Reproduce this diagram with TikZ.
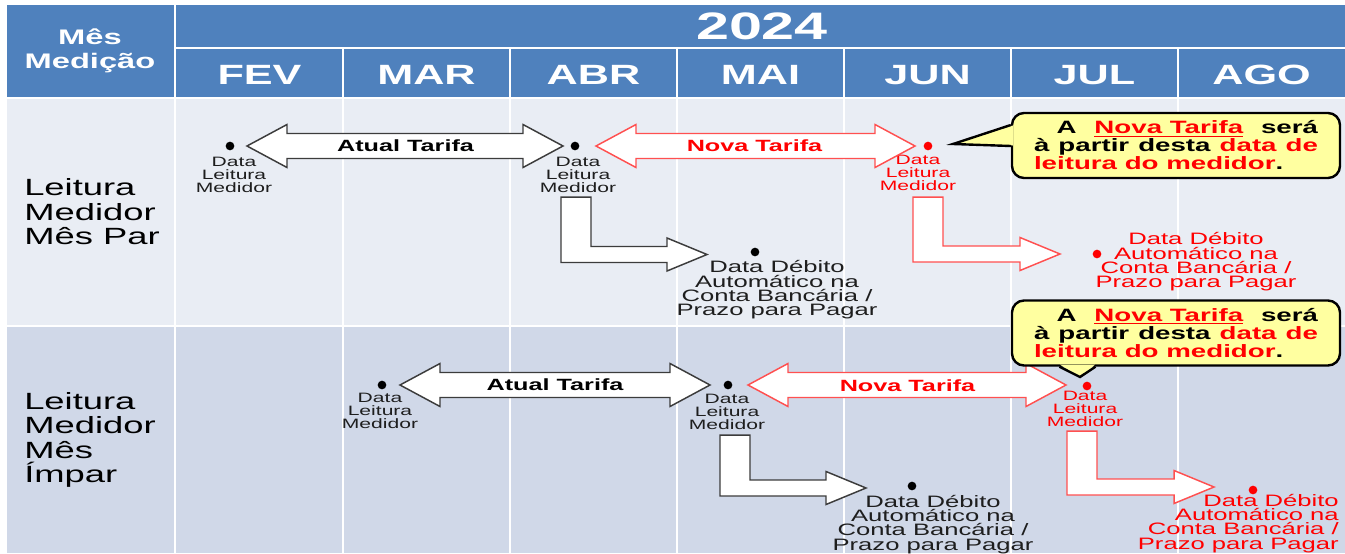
\documentclass[tikz,border=0pt]{standalone}
\usepackage{fontspec}
\setmainfont{Liberation Sans}[FakeStretch=1.55]
\usepackage{xcolor}
\usepackage{tikz}
\usetikzlibrary{
    positioning,
    calc
}
\definecolor{hdrblue}{RGB}{79,129,189}
\definecolor{rowA}{RGB}{233,237,244}
\definecolor{rowB}{RGB}{208,216,232}
\definecolor{lblgray}{RGB}{30,30,30}
\definecolor{arrgray}{RGB}{60,60,60}
\definecolor{arrred}{RGB}{255,80,80}
\definecolor{cfill}{RGB}{255,255,160}
\tikzstyle{grid} = [white, line width=1.5pt]
\tikzstyle{hdr} = [
    text=white,
    align=center,
    inner sep=0pt
]
\tikzstyle{rowlbl} = [
    anchor=west,
    align=left,
    inner sep=0pt,
    font=\fontsize{17.6}{18.4}\selectfont
]
\tikzstyle{ptdot} = [circle, fill=black, inner sep=0pt, minimum size=6.5pt]
\tikzstyle{redptdot} = [ptdot, fill=red]
\tikzstyle{lbl} = [
    anchor=north,
    align=center,
    inner sep=0pt,
    text=lblgray,
    font=\fontsize{10.2}{9.75}\selectfont
]
\tikzstyle{redlbl} = [lbl, text=red]
\tikzstyle{debit} = [
    anchor=north,
    align=center,
    inner sep=0pt,
    text=lblgray,
    font=\fontsize{12.4}{10.75}\selectfont
]
\tikzstyle{reddebit} = [debit, text=red]
\tikzstyle{tarifa} = [inner sep=0pt, font=\bfseries\fontsize{12.2}{13}\selectfont]
\tikzstyle{blkarrow} = [draw=arrgray, fill=white, line width=1.1pt]
\tikzstyle{redarrow} = [draw=arrred, fill=white, line width=1.1pt]
\tikzstyle{balloon} = [
    draw=black,
    fill=cfill,
    line width=1.8pt,
    rounded corners=9pt,
    text width=213pt,
    inner xsep=16.5pt,
    inner ysep=0pt,
    minimum height=48.75pt,
    align=justify,
    font=\bfseries\fontsize{13.4}{13.5}\selectfont
]
\newcommand{\balloontext}{%
    \hspace*{17pt}A \textcolor{red}{\underline{Nova Tarifa}} será\linebreak
    à partir desta \textcolor{red}{data de}\linebreak
    \textcolor{red}{leitura do medidor}.}
% double block arrow between two tips
\newcommand{\dblarrow}[3]{%
    \draw[#1] (#2) -- ++(40,-21.5) -- ++(0,9) -- ($(#3)+(-40,-12.5)$) -- ++(0,-9)
        -- (#3) -- ++(-40,21.5) -- ++(0,-9) -- ($(#2)+(40,12.5)$) -- ++(0,9) -- cycle;}
% bent block arrow: top-left corner of the stem, then tip
\newcommand{\bentarrow}[3]{%
    \draw[#1] (#2) -- ++(30,0) |- ($(#3)+(-40,-8)$) -- ++(0,-8.5) -- (#3)
        -- ++(-40,16.5) -- ++(0,-8.5) -| (#2) -- cycle;}

\begin{document}
\begin{tikzpicture}[x=0.75pt, y=-0.75pt]
    \useasboundingbox (0,0) rectangle (1345,553);

    \fill[hdrblue] (7,5) rectangle (1345,98);
    \fill[rowA] (7,98) rectangle (1345,326);
    \fill[rowB] (7,326) rectangle (1345,553);
    \draw[grid] (175,48) -- (1345,48);
    \draw[grid] (7,98) -- (1345,98);
    \draw[grid] (7,326) -- (1345,326);
    \draw[grid] (175,5) -- (175,553);
    \foreach \i in {1,...,6}
        \draw[grid] ({176+167*\i},48) -- ({176+167*\i},553);

    \node[hdr, font=\bfseries\fontsize{15.8}{17.6}\selectfont] (mes) at (90,51) {Mês\\Medição};
    \node[hdr, font=\bfseries\fontsize{28.7}{30}\selectfont] (ano) at (762,26) {2024};
    \foreach \m [count=\i] in {FEV,MAR,ABR,MAI,JUN,JUL,AGO}
        \node[hdr, font=\bfseries\fontsize{20.9}{22}\selectfont] (m\i) at ({176+167*(\i-0.5)},75) {\m};

    \node[rowlbl] (par) at (24,212) {Leitura\\Medidor\\Mês Par};
    \node[rowlbl] (impar) at (24,440) {Leitura\\Medidor\\Mês\\Ímpar};

    % mes par
    \node[ptdot] (d1) at (230,146) {};
    \node[ptdot] (d2) at (575,146) {};
    \node[redptdot] (d3) at (928,146) {};
    \node[ptdot] (d4) at (755,252) {};
    \node[redptdot] (d5) at (1097,254) {};
    \node[lbl] (l1) at (234,157) {Data\\Leitura\\Medidor};
    \node[lbl] (l2) at (578,157) {Data\\Leitura\\Medidor};
    \node[redlbl] (l3) at (918,155) {Data\\Leitura\\Medidor};
    \node[debit] (t4) at (777,260.5) {Data Débito\\Automático na\\Conta Bancária /\\Prazo para Pagar};
    \node[reddebit] (t5) at (1196,232.5) {Data Débito\\Automático na\\Conta Bancária /\\Prazo para Pagar};

    \dblarrow{blkarrow}{$(d1)+(17,0)$}{$(d2)+(-12,0)$}
    \dblarrow{redarrow}{$(d2)+(21,0)$}{$(d3)+(-13,0)$}
    \node[tarifa] (at1) at ($(d1)!0.5!(d2)+(3,0)$) {Atual Tarifa};
    \node[tarifa, text=red] (nt1) at ($(d2)!0.5!(d3)+(3,0)$) {Nova Tarifa};

    \coordinate (b1s) at ($(l2.south)+(-17,4)$);
    \coordinate (b1t) at ($(d4)+(-48,2.5)$);
    \coordinate (b2s) at ($(l3.south)+(-5,6)$);
    \coordinate (b2t) at ($(d5)+(-37,0)$);
    \bentarrow{blkarrow}{b1s}{b1t}
    \bentarrow{redarrow}{b2s}{b2t}

    \node[balloon] (c1) at (1176,145.5) {\balloontext};
    \coordinate (c1tip) at ($(d3)+(25,-2)$);
    \fill[cfill] ($(c1.west)+(2,-20)$) -- (c1tip) -- ($(c1.west)+(2,0)$) -- cycle;
    \draw[line width=1.8pt] ($(c1.west)+(0,-20.5)$) -- (c1tip) -- ($(c1.west)+(0,0.5)$);

    % mes impar
    \node[ptdot] (d6) at (382,385) {};
    \node[ptdot] (d7) at (728,385) {};
    \node[redptdot] (d8) at (1087,386) {};
    \node[ptdot] (d9) at (912,486) {};
    \node[redptdot] (d10) at (1253,490) {};
    \node[lbl] (l6) at (380,393) {Data\\Leitura\\Medidor};
    \node[lbl] (l7) at (727,394) {Data\\Leitura\\Medidor};
    \node[redlbl] (l8) at (1085,391) {Data\\Leitura\\Medidor};
    \node[debit] (t9) at (933,494.7) {Data Débito\\Automático na\\Conta Bancária /\\Prazo para Pagar};
    \node[reddebit, align=right, anchor=north east] (t10) at (1339,493.7) {Data Débito\\Automático na\\Conta Bancária /\\Prazo para Pagar};

    \dblarrow{blkarrow}{$(d6)+(18,0)$}{$(d7)+(-18,0)$}
    \dblarrow{redarrow}{$(d7)+(20,0)$}{$(d8)+(-21,-1)$}
    \node[tarifa] (at2) at ($(d6)!0.5!(d7)$) {Atual Tarifa};
    \node[tarifa, text=red] (nt2) at ($(d7)!0.5!(d8)$) {Nova Tarifa};

    \coordinate (b3s) at ($(l7.south)+(-7,5)$);
    \coordinate (b3t) at ($(d9)+(-46,2)$);
    \coordinate (b4s) at ($(l8.south)+(-18,4)$);
    \coordinate (b4t) at ($(d10)+(-39,-3)$);
    \bentarrow{blkarrow}{b3s}{b3t}
    \bentarrow{redarrow}{b4s}{b4t}

    \node[balloon] (c2) at (1176,333) {\balloontext};
    \coordinate (c2tip) at ($(d8)+(-7,-9)$);
    \fill[cfill] ($(c2.south)+(-116,-2)$) -- (c2tip) -- ($(c2.south)+(-81,-2)$) -- cycle;
    \draw[line width=1.8pt] ($(c2.south)+(-116.5,0)$) -- (c2tip) -- ($(c2.south)+(-80.5,0)$);
\end{tikzpicture}
\end{document}
